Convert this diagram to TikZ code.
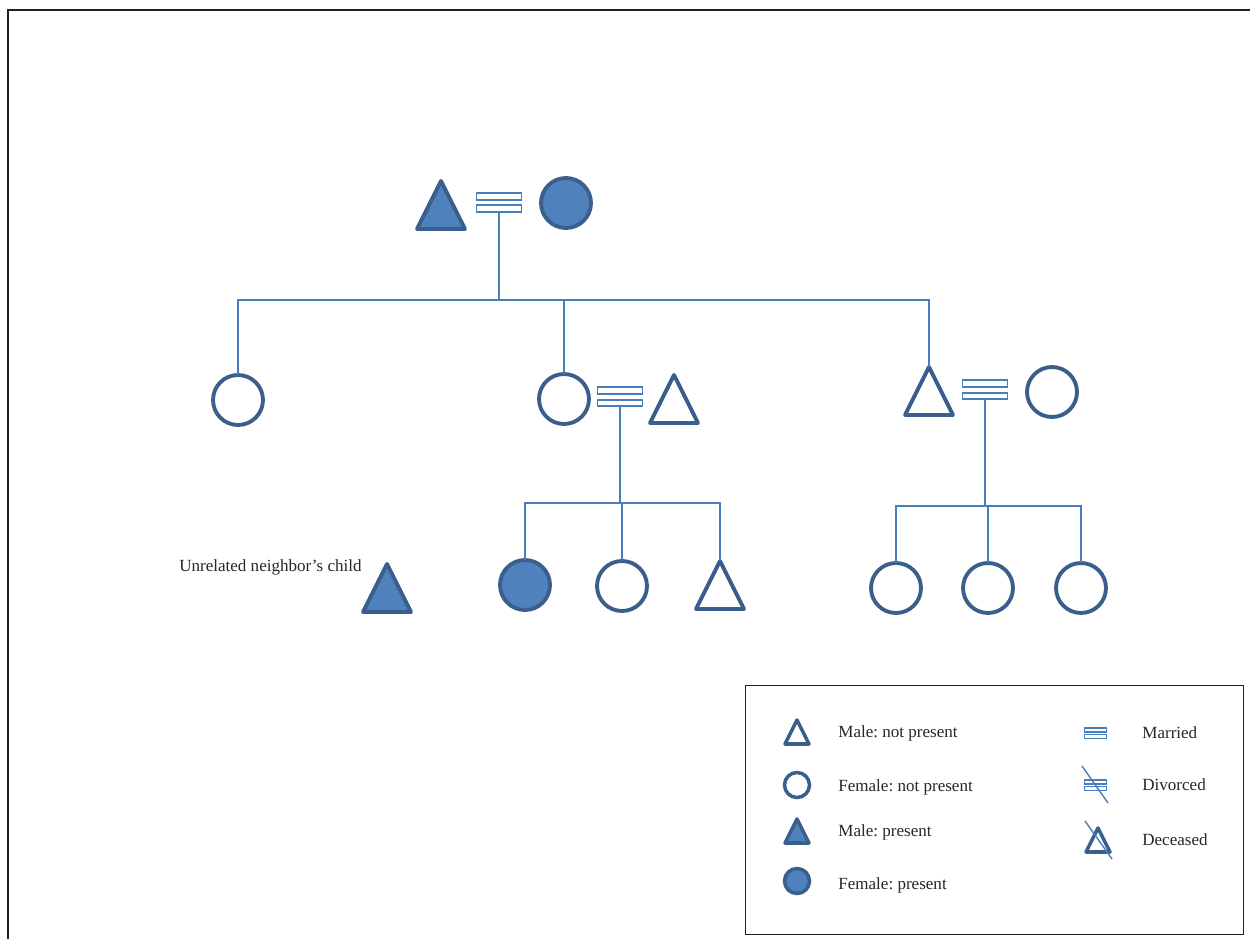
\documentclass[tikz,border=0pt]{standalone}
\usepackage{fontspec}
\setmainfont{Liberation Serif}
\frenchspacing
\usetikzlibrary{shapes.geometric}
\definecolor{sfill}{HTML}{4F81BD}
\definecolor{sline}{HTML}{3A5F8D}
\definecolor{conn}{HTML}{4A7EBB}
\definecolor{frame}{HTML}{231F20}
\tikzset{
  fem/.style={circle, draw=sline, line width=2.2pt, minimum size=1.0cm, inner sep=0, outer sep=0, fill=white},
  femp/.style={fem, fill=sfill},
  mal/.style={isosceles triangle, isosceles triangle stretches, shape border rotate=90,
    draw=sline, line width=2.2pt, line join=round, minimum width=0.96cm, minimum height=0.96cm,
    inner sep=0, outer sep=0, anchor=apex, fill=white},
  malp/.style={mal, fill=sfill},
  lfem/.style={fem, minimum size=0.5cm, line width=2pt},
  lfemp/.style={lfem, fill=sfill},
  lmal/.style={mal, minimum width=0.48cm, minimum height=0.48cm, line width=2pt},
  lmalp/.style={lmal, fill=sfill},
  marbar/.style={rectangle, draw=conn, line width=0.9pt, minimum width=0.9cm, minimum height=0.13cm, inner sep=0, outer sep=0},
  lmarbar/.style={marbar, minimum width=0.45cm, minimum height=0.08cm, line width=0.6pt},
  link/.style={draw=conn, line width=1.1pt},
  slash/.style={draw=conn, line width=0.8pt},
  lbl/.style={font=\fontsize{9.7}{12}\selectfont, text=black!85, inner sep=0, anchor=west}
}
\begin{document}
\begin{tikzpicture}[x=0.02cm,y=-0.02cm]
\useasboundingbox (0,0) rectangle (1250,939);
% frame
\draw[frame, line width=1.3pt] (8,939) -- (8,10) -- (1250,10);

% generation 1
\node[malp] (gf) at (441,181) {};
\node[femp] (gm) at (566,203) {};
\node[marbar] (m1a) at (499,196.5) {};
\node[marbar] (m1b) at (499,208.5) {};
\coordinate (sib1) at (500,300);

% generation 2
\node[fem] (a1) at (238,400) {};
\node[fem] (a2) at (564,399) {};
\node[mal] (a3) at (929,367) {};
\node[marbar] (m2a) at (620,390.5) {};
\node[marbar] (m2b) at (620,403) {};
\node[mal] (a2h) at (674,375) {};
\node[marbar] (m3a) at (985,383.5) {};
\node[marbar] (m3b) at (985,396) {};
\node[fem] (a3w) at (1052,392) {};

\draw[link] (m1b.south) -- (m1b.south |- sib1);
\draw[link] (a1.north) |- (sib1) -| (a3.apex);
\draw[link] (a2.north) -- (a2.north |- sib1);

% generation 3, middle family
\coordinate (sib2) at (622,503);
\node[femp] (b1) at (525,585) {};
\node[fem] (b2) at (622,586) {};
\node[mal] (b3) at (720,561) {};
\draw[link] (m2b.south) -- (m2b.south |- sib2);
\draw[link] (b1.north) |- (sib2) -| (b3.apex);
\draw[link] (b2.north) -- (b2.north |- sib2);

% generation 3, right family
\coordinate (sib3) at (988,506);
\node[fem] (c1) at (896,588) {};
\node[fem] (c2) at (988,588) {};
\node[fem] (c3) at (1081,588) {};
\draw[link] (m3b.south) -- (m3b.south |- sib3);
\draw[link] (c1.north) |- (sib3) -| (c3.north);
\draw[link] (c2.north) -- (c2.north |- sib3);

% unrelated
\node[lbl, anchor=east] (ut) at (362,567) {Unrelated neighbor’s child};
\node[malp] (u) at (387,564) {};

% legend
\node[draw=frame, line width=0.8pt, rectangle, minimum width=9.96cm, minimum height=4.98cm, inner sep=0, anchor=north west] (leg) at (745,685) {};
\node[lmal] (l1) at (797,720) {};
\node[lbl] (l1t) at (838,733) {Male: not present};
\node[lfem] (l2) at (797,785) {};
\node[lbl] (l2t) at (838,787) {Female: not present};
\node[lmalp] (l3) at (797,819) {};
\node[lbl] (l3t) at (838,832) {Male: present};
\node[lfemp] (l4) at (797,881) {};
\node[lbl] (l4t) at (838,885) {Female: present};

\node[lmarbar] (r1a) at (1095.5,730) {};
\node[lmarbar] (r1b) at (1095.5,736.5) {};
\node[lbl] (r1t) at (1142,733) {Married};
\node[lmarbar] (r2a) at (1095.5,782) {};
\node[lmarbar] (r2b) at (1095.5,788.5) {};
\coordinate (d2a) at (1082,766);
\coordinate (d2b) at (1108,803);
\draw[slash] (d2a) -- (d2b);
\node[lbl] (r2t) at (1142,785) {Divorced};
\node[lmal] (r3) at (1098,828) {};
\coordinate (d3a) at (1085,821);
\coordinate (d3b) at (1112,859);
\draw[slash] (d3a) -- (d3b);
\node[lbl] (r3t) at (1142,840) {Deceased};
\end{tikzpicture}
\end{document}
